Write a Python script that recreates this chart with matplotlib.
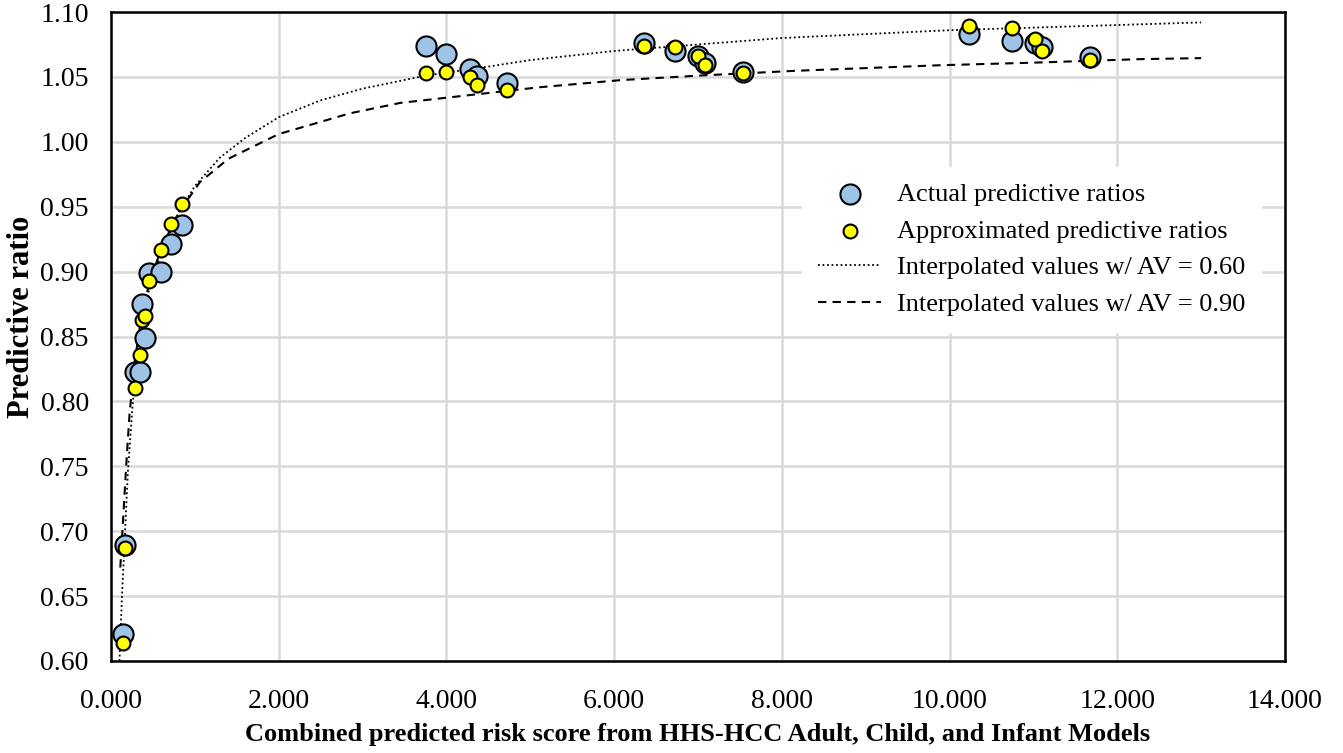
import numpy as np
import matplotlib
matplotlib.use("Agg")
import matplotlib.pyplot as plt

plt.rcParams["font.family"] = ["Liberation Serif", "DejaVu Serif"]

# risk scores (shared by actual and approximated points)
risk_score = [0.14, 0.17, 0.28, 0.34, 0.37, 0.41, 0.45, 0.595, 0.714, 0.85,
              3.75, 4.00, 4.28, 4.37, 4.72,
              6.36, 6.73, 7.00, 7.08, 7.54,
              10.23, 10.75, 11.02, 11.10, 11.67]

actual_pr = [0.621, 0.689, 0.823, 0.823, 0.875, 0.849, 0.899, 0.900, 0.921, 0.936,
             1.074, 1.068, 1.056, 1.051, 1.045,
             1.076, 1.070, 1.066, 1.061, 1.054,
             1.083, 1.078, 1.076, 1.073, 1.065]

approx_pr = [0.614, 0.687, 0.810, 0.836, 0.863, 0.866, 0.893, 0.917, 0.937, 0.952,
             1.053, 1.054, 1.050, 1.044, 1.040,
             1.074, 1.073, 1.066, 1.059, 1.053,
             1.089, 1.088, 1.079, 1.070, 1.063]

# interpolated curves
av60_x = [0.10, 0.13, 0.16, 0.20, 0.26, 0.35, 0.45, 0.60, 0.80, 1.00, 1.30, 1.60,
          2.00, 2.50, 3.00, 3.75, 4.50, 5.00, 6.00, 7.00, 8.00, 9.00, 10.0, 11.0,
          12.0, 13.0]
av60_y = [0.600, 0.650, 0.690, 0.745, 0.800, 0.845, 0.885, 0.915, 0.945, 0.966,
          0.988, 1.003, 1.019, 1.032, 1.041, 1.051, 1.058, 1.063, 1.070, 1.075,
          1.080, 1.083, 1.086, 1.088, 1.090, 1.092]

av90_x = [0.11, 0.14, 0.18, 0.22, 0.28, 0.35, 0.45, 0.60, 0.80, 1.06, 1.40, 2.00,
          2.85, 3.45, 4.00, 5.10, 6.07, 7.00, 8.15, 9.88, 11.0, 12.26, 13.0]
av90_y = [0.672, 0.705, 0.750, 0.790, 0.830, 0.860, 0.890, 0.918, 0.945, 0.969,
          0.987, 1.006, 1.022, 1.030, 1.034, 1.042, 1.0475, 1.051, 1.0547, 1.059,
          1.061, 1.0637, 1.0645]

fig = plt.figure(figsize=(13.43, 7.53), dpi=100)
ax = fig.add_axes([0.0827, 0.1222, 0.8741, 0.8618])

ax.scatter(risk_score, actual_pr, s=210, color="#9DC3E6", edgecolor="black",
           linewidth=1.5, zorder=3, label="Actual predictive ratios")
ax.scatter(risk_score, approx_pr, s=100, color="#FFFF00", edgecolor="black",
           linewidth=1.5, zorder=4, label="Approximated predictive ratios")
ax.plot(av60_x, av60_y, color="black", linestyle=(0, (1, 1.5)), linewidth=1.3,
        zorder=2, label="Interpolated values w/ AV = 0.60")
ax.plot(av90_x, av90_y, color="black", linestyle=(0, (4, 3)), linewidth=1.5,
        zorder=2, label="Interpolated values w/ AV = 0.90")

ax.set_xlim(0, 14)
ax.set_ylim(0.60, 1.10)
ax.set_xticks(np.arange(0, 14.01, 2))
ax.set_yticks(np.arange(0.60, 1.101, 0.05))
ax.set_xticklabels([f"{v:.3f}" for v in np.arange(0, 14.01, 2)])
ax.set_yticklabels([f"{v:.2f}" for v in np.arange(0.60, 1.101, 0.05)])
ax.tick_params(length=0, labelsize=20)
ax.tick_params(axis="x", pad=20)
ax.tick_params(axis="y", pad=16)
ax.grid(True, color="#D9D9D9", linewidth=1.8, zorder=0)
ax.set_axisbelow(True)
for s in ax.spines.values():
    s.set_linewidth(1.8)

ax.set_xlabel("Combined predicted risk score from HHS-HCC Adult, Child, and Infant Models",
              fontsize=19, fontweight="bold", labelpad=7)
ax.set_ylabel("Predictive ratio", fontsize=22, fontweight="bold")
ax.yaxis.set_label_coords(-0.064, 0.53)

leg = ax.legend(loc="upper right", bbox_to_anchor=(0.991, 0.782), fontsize=19,
                frameon=True, fancybox=False, edgecolor="white",
                handlelength=2.4, handletextpad=0.6, borderpad=0.6,
                labelspacing=0.5)
leg.get_frame().set_facecolor("white")
leg.get_frame().set_alpha(1)

fig.savefig("out.png", dpi=100)
